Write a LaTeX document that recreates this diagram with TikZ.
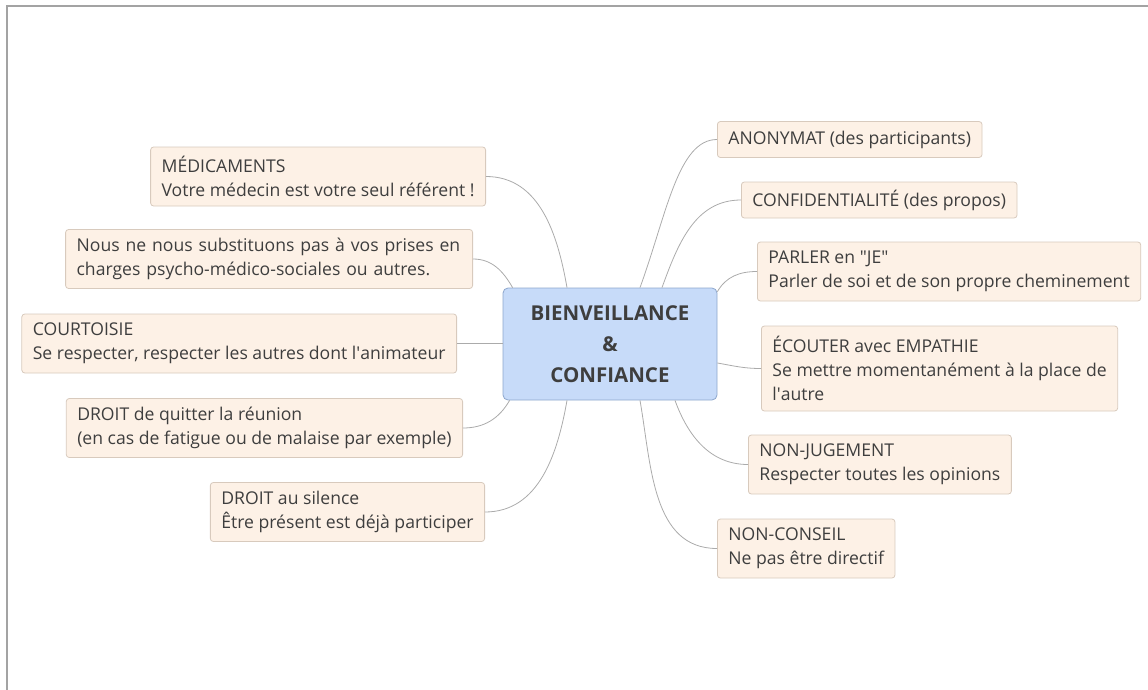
\documentclass[tikz,border=0pt]{standalone}
\usepackage{fontspec}
\setmainfont{Open Sans}
\usepackage{tikz}
\usetikzlibrary{positioning}

\definecolor{topicfill}{HTML}{FDF1E6}
\definecolor{topicline}{HTML}{D8CABD}
\definecolor{mainfill}{HTML}{C7DBF9}
\definecolor{mainline}{HTML}{8DA6CC}
\definecolor{linkgray}{HTML}{ABABAB}
\definecolor{textgray}{HTML}{3E3E3E}
\definecolor{framegray}{HTML}{A3A3A3}

\begin{document}
\begin{tikzpicture}[x=1pt, y=-1pt,
  topic/.style={draw=topicline, fill=topicfill, rounded corners=3pt, line width=0.8pt,
    align=left, inner xsep=11pt, inner ysep=0pt, text=textgray,
    font=\fontsize{17.6}{24}\selectfont},
  oneline/.style={topic, minimum height=36pt},
  twoline/.style={topic, minimum height=59pt},
  threeline/.style={topic, minimum height=85pt},
  central/.style={draw=mainline, fill=mainfill, rounded corners=5pt, line width=0.8pt,
    align=center, minimum width=214pt, minimum height=112pt, text=textgray,
    font=\fontsize{20.5}{31}\selectfont\bfseries},
  link/.style={draw=linkgray, line width=0.8pt}]
  \useasboundingbox (0,0) rectangle (1148,690);
  \draw[framegray, line width=2pt] (7,690) -- (7,6) -- (1148,6);

  \node (main) [central] at (610,344) {BIENVEILLANCE\\\&\\CONFIANCE};

  % left branches
  \node (meds) [twoline, anchor=east] at (486,176.5) {MÉDICAMENTS\\Votre médecin est votre seul référent !};
  \node (care) [twoline, anchor=east, text width=385pt] at (473,259) {Nous ne nous substituons pas à vos prises en\\charges psycho-médico-sociales ou autres.};
  \node (court) [twoline, anchor=east] at (457,343.5) {COURTOISIE\\Se respecter, respecter les autres dont l\textquotesingle animateur};
  \node (leave) [twoline, anchor=east] at (463,428) {DROIT de quitter la réunion\\(en cas de fatigue ou de malaise par exemple)};
  \node (silence) [twoline, anchor=east] at (485,512) {DROIT au silence\\Être présent est déjà participer};

  % right branches
  \node (anon) [oneline, anchor=west] at (717,139.5) {ANONYMAT (des participants)};
  \node (conf) [oneline, anchor=west] at (741,200) {CONFIDENTIALITÉ (des propos)};
  \node (speak) [twoline, anchor=west] at (757,271.5) {PARLER en \textquotedbl JE\textquotedbl\\Parler de soi et de son propre cheminement};
  \node (listen) [threeline, anchor=west] at (761,368.5) {ÉCOUTER avec EMPATHIE\\Se mettre momentanément à la place de\\l\textquotesingle autre};
  \node (nojudge) [twoline, anchor=west] at (748,464.5) {NON-JUGEMENT\\Respecter toutes les opinions};
  \node (noadvice) [twoline, anchor=west] at (717,548.5) {NON-CONSEIL\\Ne pas être directif};

  \draw[link] (meds.east) to[out=0, in=100] ([xshift=-43pt]main.north);
  \draw[link] (care.east) to[out=0, in=120] ([xshift=10pt]main.north west);
  \draw[link] (court.east) -- (court.east -| main.west);
  \draw[link] (leave.east) to[out=0, in=-120] ([xshift=7pt]main.south west);
  \draw[link] (silence.east) to[out=0, in=-100] ([xshift=-43pt]main.south);

  \draw[link] ([xshift=30pt]main.north) to[out=70, in=180, out looseness=1.2, in looseness=0.6] (anon.west);
  \draw[link] ([xshift=52pt]main.north) to[out=70, in=180] (conf.west);
  \draw[link] ([yshift=-4pt]main.north east) to[out=60, in=180] (speak.west);
  \draw[link] ([yshift=-19pt]main.east) to[out=-10, in=180] (listen.west);
  \draw[link] ([xshift=65pt]main.south) to[out=-70, in=180] (nojudge.west);
  \draw[link] ([xshift=30pt]main.south) to[out=-80, in=180] (noadvice.west);
\end{tikzpicture}
\end{document}
